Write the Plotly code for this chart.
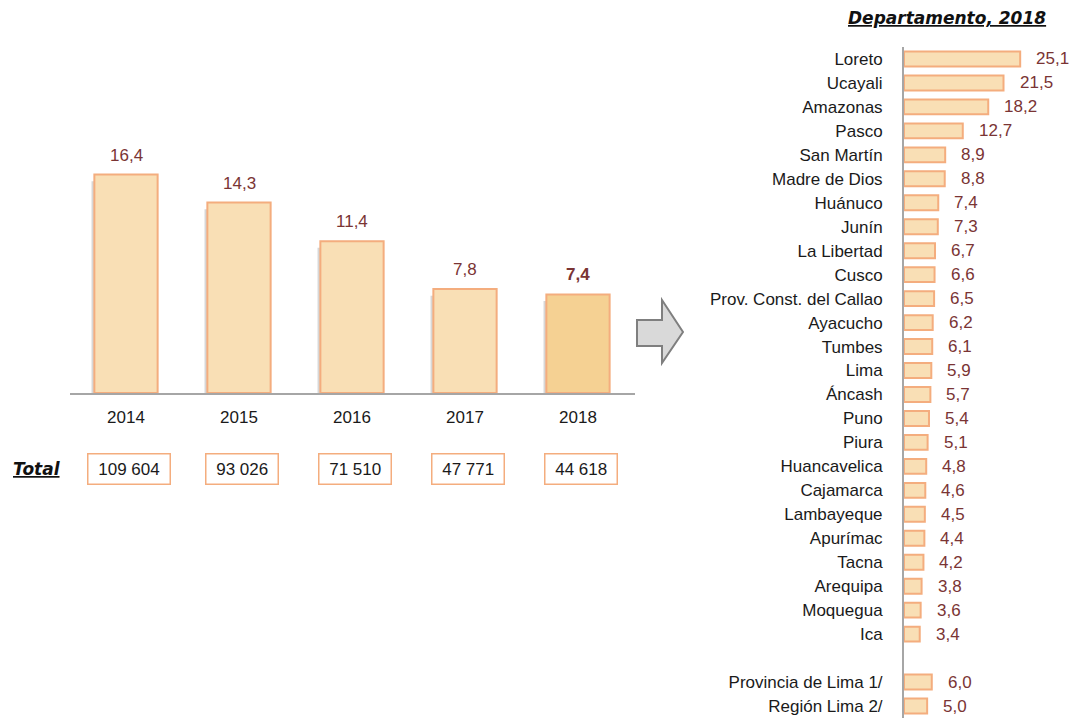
import plotly.graph_objects as go

# --- data ---------------------------------------------------------------
years = ['2014', '2015', '2016', '2017', '2018']
rate_year = [16.4, 14.3, 11.4, 7.8, 7.4]
totals = ['109 604', '93 026', '71 510', '47 771', '44 618']

departamentos = ['Loreto', 'Ucayali', 'Amazonas', 'Pasco', 'San Martín', 'Madre de Dios',
                 'Huánuco', 'Junín', 'La Libertad', 'Cusco', 'Prov. Const. del Callao',
                 'Ayacucho', 'Tumbes', 'Lima', 'Áncash', 'Puno', 'Piura', 'Huancavelica',
                 'Cajamarca', 'Lambayeque', 'Apurímac', 'Tacna', 'Arequipa', 'Moquegua', 'Ica']
rate_dep = [25.1, 21.5, 18.2, 12.7, 8.9, 8.8, 7.4, 7.3, 6.7, 6.6, 6.5, 6.2, 6.1, 5.9,
            5.7, 5.4, 5.1, 4.8, 4.6, 4.5, 4.4, 4.2, 3.8, 3.6, 3.4]
lima_labels = ['Provincia de Lima 1/', 'Región Lima 2/']
rate_lima = [6.0, 5.0]

W, H = 1069, 718
FILL = '#f9dfb5'
FILL_LAST = '#f5d193'
EDGE = '#f4ad7e'
VAL_COL = '#7a3434'
FONT = 'Liberation Sans, Arial, sans-serif'
TITLE_FONT = 'DejaVu Sans, Verdana, sans-serif'
NBSP = '\u00a0'


def px(x):
    return x / W


def py(y):
    return 1 - y / H


def fmt(v):
    return f'{v:.1f}'.replace('.', ',')


# positions on the right chart: one empty row between departamentos and Lima rows
y_dep = list(range(len(departamentos)))
y_lima = [len(departamentos) + 1 + i for i in range(len(lima_labels))]
all_labels = departamentos + lima_labels
all_vals = rate_dep + rate_lima
all_y = y_dep + y_lima
x_years = list(range(len(years)))

fig = go.Figure()

# soft shadow behind left bars
fig.add_trace(go.Bar(
    x=x_years, y=[v - 0.5 for v in rate_year],
    width=0.56, offset=-0.305,
    marker=dict(color='rgba(110,110,110,0.28)', line=dict(width=0)),
    hoverinfo='skip', showlegend=False,
    xaxis='x', yaxis='y'
))

fig.add_trace(go.Bar(
    x=x_years, y=rate_year,
    width=0.56,
    marker=dict(color=[FILL] * (len(years) - 1) + [FILL_LAST],
                line=dict(color=EDGE, width=2)),
    showlegend=False,
    xaxis='x', yaxis='y'
))

fig.add_trace(go.Bar(
    x=all_vals, y=all_y, orientation='h',
    width=0.62,
    marker=dict(color=FILL, line=dict(color=EDGE, width=2)),
    showlegend=False,
    xaxis='x2', yaxis='y2'
))

annotations = []

# value labels, left chart
for i, v in zip(x_years, rate_year):
    last = i == len(years) - 1
    annotations.append(dict(
        x=i, y=v, xref='x', yref='y', yanchor='bottom', yshift=8,
        text=f'<b>{fmt(v)}</b>' if last else fmt(v), showarrow=False,
        font=dict(family=FONT, size=17, color=VAL_COL)
    ))

# totals boxes
for i, t in zip(x_years, totals):
    annotations.append(dict(
        x=i, y=py(469), xref='x', yref='paper', xanchor='center', yanchor='middle', xshift=3,
        text=NBSP + t + NBSP, showarrow=False, bordercolor=EDGE, borderwidth=1.5, borderpad=5,
        font=dict(family=FONT, size=17, color='#1a1a1a')
    ))

annotations.append(dict(
    x=px(37), y=py(469), xref='paper', yref='paper', xanchor='center', yanchor='middle',
    text='<b><i><u>Total</u></i></b>', showarrow=False,
    font=dict(family=TITLE_FONT, size=17, color='#111111')
))

# value labels, right chart
for v, yy in zip(all_vals, all_y):
    annotations.append(dict(
        x=v, y=yy, xref='x2', yref='y2', xanchor='left', xshift=14,
        text=fmt(v), showarrow=False,
        font=dict(family=FONT, size=17, color=VAL_COL)
    ))

annotations.append(dict(
    x=px(1048), y=py(18), xref='paper', yref='paper', xanchor='right', yanchor='middle',
    text='<b><i><u>Departamento, 2018</u></i></b>', showarrow=False,
    font=dict(family=TITLE_FONT, size=17, color='#111111')
))

# grey block arrow between the two charts
pts = [(637, 320), (662, 320), (662, 300), (683, 332), (662, 363), (662, 346), (637, 346)]
path = 'M ' + ' L '.join(f'{px(a):.5f},{py(b):.5f}' for a, b in pts) + ' Z'

fig.update_layout(
    width=W, height=H,
    margin=dict(l=0, r=0, t=0, b=0),
    paper_bgcolor='white', plot_bgcolor='white',
    barmode='overlay',
    font=dict(family=FONT, size=17, color='#1a1a1a'),
    xaxis=dict(domain=[px(69.5), px(634.5)], range=[-0.5, 4.5],
               tickmode='array', tickvals=x_years, ticktext=years,
               showline=True, linecolor='#a6a6a6', linewidth=2,
               showgrid=False, zeroline=False, ticks='', ticklabelstandoff=8,
               tickfont=dict(family=FONT, size=17, color='#1a1a1a')),
    yaxis=dict(domain=[py(393), py(100)], range=[0, 22], visible=False),
    xaxis2=dict(domain=[px(904), px(1066)], range=[0, 35], visible=False, anchor='y2'),
    yaxis2=dict(domain=[py(718), py(47)], range=[len(all_labels) + 0.5, -0.5],
                anchor='x2', tickmode='array', tickvals=all_y, ticktext=all_labels,
                showline=True, linecolor='#a6a6a6', linewidth=2,
                showgrid=False, zeroline=False, ticks='', ticklabelstandoff=16,
                tickfont=dict(family=FONT, size=17, color='#1a1a1a')),
    shapes=[dict(type='path', path=path, xref='paper', yref='paper',
                 fillcolor='#d9d9d9', line=dict(color='#7f7f7f', width=2))],
    annotations=annotations,
)

fig.write_html('out.html', config={'displayModeBar': False},
               post_script="document.body.style.margin='0px';")
